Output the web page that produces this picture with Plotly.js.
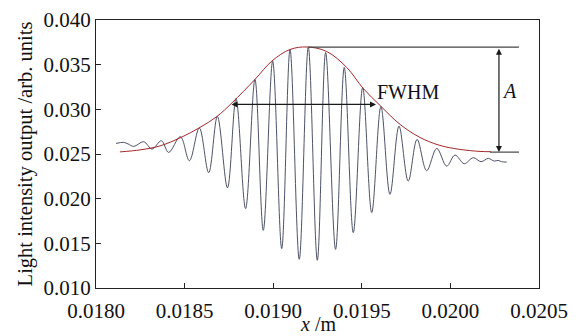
<!DOCTYPE html>
<html>
<head>
<meta charset="utf-8">
<script src="https://cdn.plot.ly/plotly-3.0.1.min.js"></script>
<style>html,body{margin:0;padding:0;background:#fff;}#chart{width:585px;height:336px;}</style>
</head>
<body>
<div id="chart"></div>
<script>
// Interferogram signal
const signalX = [0.018113,0.018156,0.018181,0.018213,0.018269,0.018316,0.018369,0.018410,0.018476,0.018527,
  0.018583,0.018636,0.018685,0.018742,0.018790,0.018844,0.018897,0.018944,0.018997,0.019048,
  0.019095,0.019147,0.019198,0.019249,0.019296,0.019352,0.019401,0.019452,0.019505,0.019556,
  0.019608,0.019659,0.019710,0.019762,0.019812,0.019866,0.019923,0.019979,0.020026,0.020078,
  0.020129,0.020173,0.020214,0.020248,0.020269,0.020289,0.020318];
const signalY = [0.026186,0.026298,0.026130,0.025850,0.026376,0.025548,0.026488,0.025179,0.026935,0.024251,
  0.027919,0.022908,0.029206,0.021208,0.031219,0.018881,0.033345,0.016454,0.035391,0.014407,
  0.036700,0.013210,0.036957,0.013098,0.036365,0.014329,0.034687,0.016197,0.032450,0.018434,
  0.030324,0.020481,0.028121,0.021969,0.026633,0.023132,0.025626,0.023646,0.024877,0.023915,
  0.024586,0.024139,0.024508,0.024206,0.024284,0.024139,0.024094];
// Gaussian envelope
const envX = [0.018135,0.018248,0.018361,0.018474,0.018587,0.018683,0.018767,0.018897,0.018993,0.019095,
  0.019191,0.019302,0.019415,0.019508,0.019603,0.019716,0.019828,0.019941,0.020054,0.020167,0.020229];
const envY = [0.025235,0.025459,0.025906,0.026801,0.027975,0.029206,0.030716,0.033345,0.035414,0.036700,
  0.036980,0.036476,0.034687,0.032338,0.030436,0.028311,0.026857,0.025962,0.025514,0.025290,0.025257];
// Axis ticks
const xTickVals = [0.0180,0.0185,0.0190,0.0195,0.0200,0.0205];
const xTickText = ['0.0180','0.0185','0.0190','0.0195','0.0200','0.0205'];
const yTickVals = [0.010,0.015,0.020,0.025,0.030,0.035,0.040];
const yTickText = ['0.010','0.015','0.020','0.025','0.030','0.035','0.040'];
// Annotation markers
const aTop = 0.03696, aBottom = 0.02521, aX = 0.020274, aLineStart = 0.019198, aBottomStart = 0.020223, aLineEnd = 0.020387;
const fwhmY = 0.030548, fwhmLeft = 0.018756, fwhmRight = 0.019580;

const FONT = 'Liberation Serif, Times New Roman, serif';
const traces = [
  {x: signalX, y: signalY, mode: 'lines', line: {color: '#4e5266', width: 1, shape: 'spline', smoothing: 1}, hoverinfo: 'skip', showlegend: false},
  {x: envX, y: envY, mode: 'lines', line: {color: '#a3282b', width: 1, shape: 'spline'}, hoverinfo: 'skip', showlegend: false}
];
const arrowCommon = {xref: 'x', yref: 'y', axref: 'x', ayref: 'y', text: '', showarrow: true,
  arrowhead: 2, arrowside: 'end+start', arrowsize: 1, arrowwidth: 1.2, arrowcolor: '#1a1a1a', standoff: 0, startstandoff: 0};
const layout = {
  width: 585, height: 336,
  margin: {l: 96, r: 46, t: 20, b: 48},
  paper_bgcolor: '#fff', plot_bgcolor: '#fff',
  font: {family: FONT, size: 21, color: '#111'},
  xaxis: {range: [0.018, 0.0205], tickvals: xTickVals, ticktext: xTickText, ticks: 'inside', ticklen: 5,
    tickcolor: '#222', showline: true, linecolor: '#222', linewidth: 1, mirror: true, showgrid: false, zeroline: false,
    ticklabelstandoff: 4,
    tickfont: {family: FONT, size: 21, color: '#111'}},
  yaxis: {range: [0.010, 0.040], tickvals: yTickVals, ticktext: yTickText, ticks: 'inside', ticklen: 5,
    tickcolor: '#222', showline: true, linecolor: '#222', linewidth: 1, mirror: true, showgrid: false, zeroline: false,
    tickfont: {family: FONT, size: 21, color: '#111'},
    title: {text: 'Light intensity output /arb. units', font: {family: FONT, size: 20.5, color: '#111'}, standoff: 5}},
  shapes: [
    {type: 'line', xref: 'x', yref: 'y', x0: aLineStart, x1: aLineEnd, y0: aTop, y1: aTop, line: {color: '#444', width: 1.3}},
    {type: 'line', xref: 'x', yref: 'y', x0: aBottomStart, x1: aLineEnd, y0: aBottom, y1: aBottom, line: {color: '#555', width: 1.3}}
  ],
  annotations: [
    Object.assign({}, arrowCommon, {x: aX, y: aBottom, ax: aX, ay: aTop}),
    Object.assign({}, arrowCommon, {x: fwhmRight, y: fwhmY, ax: fwhmLeft, ay: fwhmY}),
    {xref: 'x', yref: 'y', x: 0.019758, y: 0.03189, text: 'FWHM', showarrow: false, font: {family: FONT, size: 20, color: '#111'}},
    {xref: 'x', yref: 'y', x: 0.020336, y: 0.032036, text: '<i>A</i>', showarrow: false, font: {family: FONT, size: 20, color: '#111'}},
    {xref: 'paper', yref: 'paper', x: 0.5, y: -0.136, xanchor: 'center', yanchor: 'middle', text: '<i>x</i> /m', showarrow: false, font: {family: FONT, size: 20, color: '#111'}}
  ]
};
Plotly.newPlot('chart', traces, layout, {staticPlot: true, displayModeBar: false});
</script>
</body>
</html>
